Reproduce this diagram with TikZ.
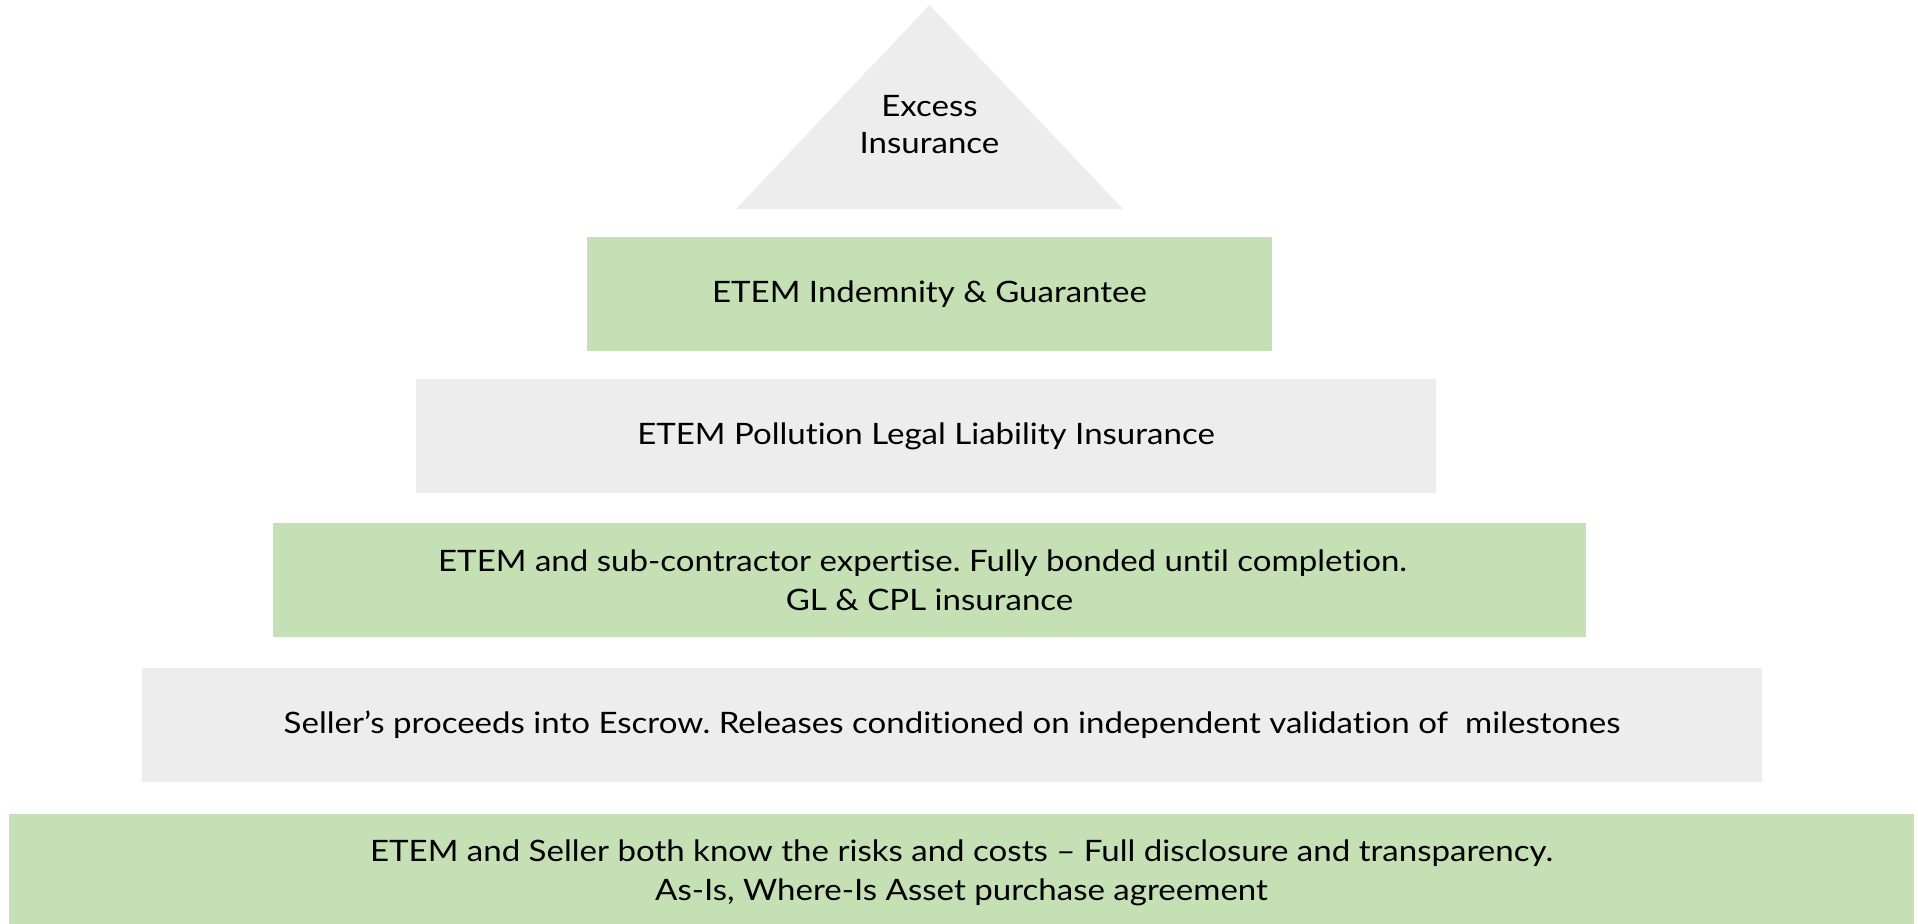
\documentclass[tikz,border=0pt]{standalone}
\usepackage{fontspec}
\setmainfont{Lato}[FakeStretch=1.12, Ligatures={NoCommon}]
\definecolor{tiergreen}{HTML}{C5E0B4}
\definecolor{tiergray}{HTML}{EDEDED}
\frenchspacing
\begin{document}
\begin{tikzpicture}[x=1pt,y=-1pt,
  tiertext/.style={inner sep=0pt, align=center, text=black, font=\fontsize{29.5}{38.5}\selectfont},
  tier/.style={tiertext, rectangle, draw=none, anchor=center}]
\useasboundingbox (0,0) rectangle (1918,923);
% apex triangle
\fill[tiergray] (929.5,5) -- (1123,209) -- (736,209) -- cycle;
\node[tiertext, font=\fontsize{29.5}{37}\selectfont] (apex) at (929.5,125) {Excess\\Insurance};
% tiers
\node[tier, fill=tiergreen, minimum width=685pt, minimum height=114pt] (t1) at (929.5,294) {ETEM Indemnity \& Guarantee};
\node[tier, fill=tiergray, minimum width=1020pt, minimum height=114pt] (t2) at (926,436) {ETEM Pollution Legal Liability Insurance};
\node[tier, fill=tiergreen, minimum width=1313pt, minimum height=114pt] (t3) at (929.5,580) {ETEM and sub-contractor expertise. Fully bonded until completion.\hspace*{14pt}\\GL \& CPL insurance};
\node[tier, fill=tiergray, minimum width=1620pt, minimum height=114pt] (t4) at (952,725) {Seller’s proceeds into Escrow. Releases conditioned on independent validation of\ \ milestones};
\node[tier, fill=tiergreen, minimum width=1905pt, minimum height=118pt] (t5) at (961.5,873) {ETEM and Seller both know the risks and costs – Full disclosure and transparency.\\As-Is, Where-Is Asset purchase agreement};
\end{tikzpicture}
\end{document}
